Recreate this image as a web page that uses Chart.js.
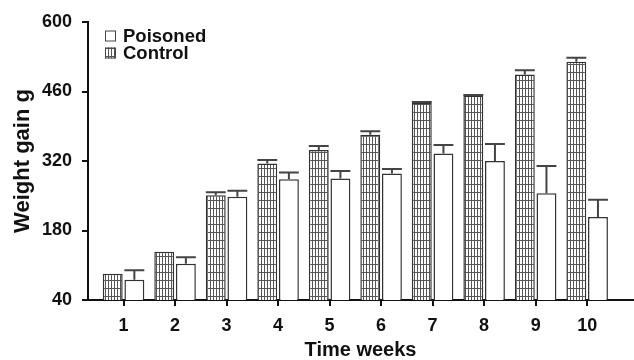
<!DOCTYPE html>
<html>
<head>
<meta charset="utf-8">
<script src="https://cdn.jsdelivr.net/npm/chart.js@4/dist/chart.umd.min.js"></script>
<style>
  html, body { margin: 0; padding: 0; background: #fff; }
  #c { display: block; }
</style>
</head>
<body>
<canvas id="c" width="634" height="360"></canvas>
<script>
// Datos
const weeks = [1, 2, 3, 4, 5, 6, 7, 8, 9, 10];
const seriesNames = ["Poisoned", "Control"];
const control = [93, 137, 251, 315, 342, 373, 438, 452, 494, 520];
const controlErr = [0, 0, 6, 7, 8, 7, 1, 1, 9, 8];
const poisoned = [81, 113, 248, 283, 285, 295, 335, 320, 255, 207];
const poisonedErr = [19, 13, 12, 14, 15, 9, 17, 34, 55, 35];
const yTicks = [40, 180, 320, 460, 600];

const FONT = "'Liberation Sans', Arial, sans-serif";
const INK = "#111";

// Trama cuadriculada para la serie control
const canvas = document.getElementById("c");
const tile = document.createElement("canvas");
tile.width = 3; tile.height = 8;
const tctx = tile.getContext("2d");
tctx.fillStyle = "#fff"; tctx.fillRect(0, 0, 3, 8);
tctx.fillStyle = "#555";
tctx.fillRect(0, 0, 1, 8);
tctx.fillRect(0, 0, 3, 1);
const grid = canvas.getContext("2d").createPattern(tile, "repeat");

// Barras de error (solo hacia arriba)
const errorBars = {
  id: "errorBars",
  afterDatasetsDraw(chart) {
    const ctx = chart.ctx;
    const ys = chart.scales.y;
    chart.data.datasets.forEach((ds, i) => {
      const meta = chart.getDatasetMeta(i);
      meta.data.forEach((bar, j) => {
        const e = ds.errors[j];
        if (!e) return;
        const top = ys.getPixelForValue(ds.data[j].y + e);
        const half = bar.width / 2;
        ctx.save();
        ctx.strokeStyle = "#444";
        ctx.lineWidth = 2;
        ctx.beginPath();
        ctx.moveTo(bar.x, bar.y);
        ctx.lineTo(bar.x, top);
        ctx.moveTo(bar.x - half, top);
        ctx.lineTo(bar.x + half, top);
        ctx.stroke();
        ctx.restore();
      });
    });
  }
};

// Leyenda dentro del area del grafico
const legendBox = {
  id: "legendBox",
  afterDraw(chart) {
    const ctx = chart.ctx;
    const fills = ["#fff", grid];
    ctx.save();
    ctx.font = "bold 18.5px " + FONT;
    ctx.textBaseline = "middle";
    seriesNames.forEach((name, i) => {
      const y = 36 + i * 17;
      ctx.fillStyle = fills[i];
      ctx.fillRect(105, y - 5.5, 11, 11);
      ctx.strokeStyle = "#444";
      ctx.lineWidth = 1;
      ctx.strokeRect(105.5, y - 5, 10, 10);
      ctx.fillStyle = INK;
      ctx.fillText(name, 123, y + 1);
    });
    ctx.restore();
  }
};

const toPoints = (vals) => vals.map((v, i) => ({ x: weeks[i], y: v }));

new Chart(canvas, {
  type: "bar",
  data: {
    datasets: [
      {
        label: "Control",
        data: toPoints(control),
        errors: controlErr,
        backgroundColor: grid,
        borderColor: "#333",
        borderWidth: 1.5,
        borderSkipped: false,
        categoryPercentage: 0.84,
        barPercentage: 0.92
      },
      {
        label: "Poisoned",
        data: toPoints(poisoned),
        errors: poisonedErr,
        backgroundColor: "#fff",
        borderColor: "#333",
        borderWidth: 1.5,
        borderSkipped: false,
        categoryPercentage: 0.84,
        barPercentage: 0.92
      }
    ]
  },
  options: {
    responsive: false,
    animation: false,
    layout: { padding: { top: 22, right: 1, left: 0, bottom: 0 } },
    plugins: { legend: { display: false }, tooltip: { enabled: false } },
    scales: {
      x: {
        type: "linear",
        min: 0.31,
        max: 10.89,
        offset: false,
        afterBuildTicks: (s) => { s.ticks = weeks.map((v) => ({ value: v })); },
        afterFit: (s) => { s.height = 60; },
        grid: { offset: false, drawOnChartArea: false, color: INK, lineWidth: 2, tickLength: 6 },
        border: { color: INK, width: 2 },
        ticks: { color: INK, font: { family: FONT, size: 18, weight: "bold" }, padding: 9, maxRotation: 0 },
        title: { display: true, text: "Time weeks", color: INK, font: { family: FONT, size: 20, weight: "bold", lineHeight: 1 }, padding: { top: 0, bottom: 0 } }
      },
      y: {
        min: 40,
        max: 600,
        afterBuildTicks: (s) => { s.ticks = yTicks.map((v) => ({ value: v })); },
        afterFit: (s) => { s.width = 88; },
        grid: { drawOnChartArea: false, color: INK, lineWidth: 2, tickLength: 6 },
        border: { color: INK, width: 2 },
        ticks: { color: INK, font: { family: FONT, size: 18, weight: "bold" }, padding: 10 },
        title: { display: true, text: "Weight gain g", color: INK, font: { family: FONT, size: 22, weight: "bold" }, padding: { top: 10, bottom: 4 } }
      }
    }
  },
  plugins: [errorBars, legendBox]
});
</script>
</body>
</html>
